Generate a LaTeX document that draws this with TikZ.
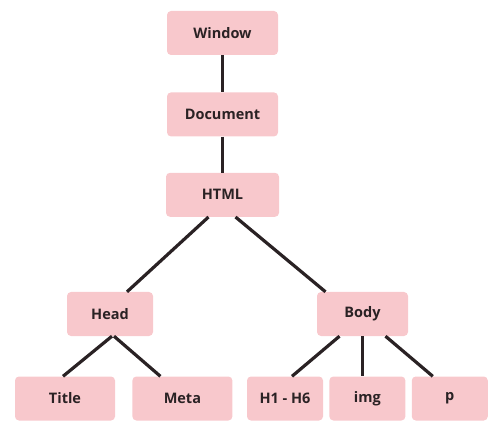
\documentclass[tikz,border=0pt]{standalone}
\usepackage{fontspec}
\setmainfont{Open Sans}
\usetikzlibrary{positioning}
\definecolor{boxpink}{HTML}{F8C8CC}
\definecolor{boxtext}{HTML}{2A2224}
\tikzstyle{tag} = [fill=boxpink,rounded corners=4pt,minimum height=44pt,inner sep=0,text=boxtext,font=\fontsize{14.5}{17}\selectfont\bfseries]
\tikzstyle{wide} = [tag,minimum width=111pt]
\tikzstyle{leaf} = [tag,minimum width=76pt]
\tikzstyle{link} = [-,line width=3.2pt,color=boxtext]

\begin{document}
\begin{tikzpicture}[x=1pt,y=-1pt, node distance=37pt]
      \useasboundingbox (0,0) rectangle (496,433);
      \node[wide] (window) at (222.5,33) {Window};
      \node[wide,below=of window] (document) {Document};
      \node[wide,minimum width=113pt,below=36pt of document] (html) {HTML};
      \node[tag,minimum width=86pt] (head) at (110,314) {Head};
      \node[tag,minimum width=91pt] (body) at (362.5,314) {Body};
      \node[tag,minimum width=100pt] (title) at (65,398.5) {Title};
      \node[tag,minimum width=100pt,right=17pt of title] (meta) {Meta};
      \node[leaf] (hx) at (285,398.5) {H1 - H6};
      \node[leaf,right=6pt of hx] (img) {img};
      \node[leaf,right=6pt of img] (p) {p};
      \draw[link] (window.south) -- (document.north);
      \draw[link] (document.south) -- (html.north);
      \draw[link] ([xshift=-14pt]html.south) -- ([xshift=17pt]head.north);
      \draw[link] ([xshift=13pt]html.south) -- ([xshift=-37pt]body.north);
      \draw[link] ([xshift=2pt]head.south) -- ([xshift=-2pt]title.north);
      \draw[link] ([xshift=4pt]head.south) -- ([xshift=-22pt]meta.north);
      \draw[link] ([xshift=-23pt]body.south) -- ([xshift=7pt]hx.north);
      \draw[link] (body.south) -- (body.south |- img.north);
      \draw[link] ([xshift=23pt]body.south) -- ([xshift=-17pt]p.north);
    \end{tikzpicture}
\end{document}
